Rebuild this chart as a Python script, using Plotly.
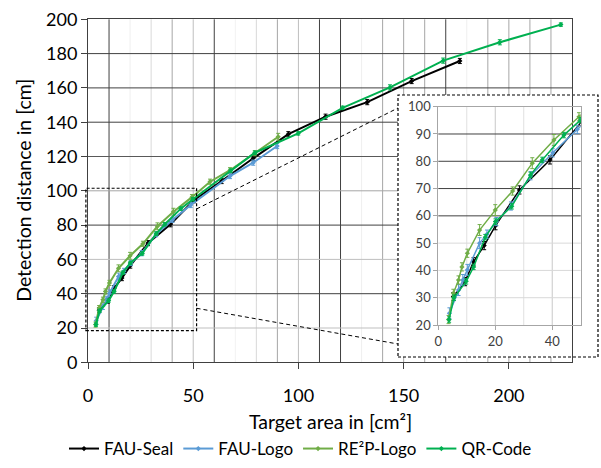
import plotly.graph_objects as go

# ---------------- data ----------------
x_seal = [5.3, 9.4, 12.4, 16.1, 20.1, 28.5, 39.2, 50.3, 63.5, 78.5, 95.2, 112.9, 132.7, 153.8, 176.7]
y_seal = [30.4, 35.9, 43.2, 49.1, 56.4, 69.5, 80.5, 94.5, 105.7, 119.0, 133.0, 143.2, 151.7, 164.0, 175.7]
e_seal = [1.5, 1.5, 1.5, 1.5, 1.5, 1.5, 1.5, 1.5, 1.5, 1.5, 1.5, 1.5, 1.5, 1.5, 1.5]

x_logo = [3.9, 7.1, 8.6, 10.2, 14.5, 17.1, 20.4, 25.5, 32.4, 40.2, 48.8, 67.5, 78.5, 89.9]
y_logo = [24.3, 32.8, 36.5, 40.2, 50.0, 53.3, 57.9, 63.6, 74.7, 83.1, 91.7, 108.6, 116.4, 126.1]
e_logo = [2.0, 2.0, 2.0, 2.0, 2.0, 1.5, 1.5, 1.5, 1.5, 1.5, 1.5, 1.5, 1.5, 1.5]

x_re = [3.6, 5.3, 7.1, 8.3, 10.2, 14.5, 20.0, 26.1, 33.0, 40.6, 49.4, 58.0, 67.5, 79.3, 90.4]
y_re = [22.0, 31.6, 36.5, 41.3, 46.3, 54.8, 62.1, 69.1, 79.3, 87.8, 96.3, 105.3, 112.0, 121.9, 131.5]
e_re = [1.5, 1.5, 1.5, 1.5, 1.5, 2.0, 2.0, 1.5, 2.0, 2.0, 1.5, 1.5, 1.5, 1.5, 2.0]

x_qr = [3.8, 5.5, 9.8, 12.4, 16.5, 20.1, 25.8, 32.4, 36.5, 44.1, 49.9, 67.8, 79.3, 99.9, 121.0, 143.5, 168.8, 195.7, 224.7]
y_qr = [22.0, 30.0, 36.0, 41.3, 52.2, 57.9, 63.5, 75.0, 80.5, 89.6, 95.1, 111.7, 122.2, 133.5, 148.4, 160.3, 175.9, 186.6, 196.9]
e_qr = [1.0, 1.0, 1.0, 1.0, 1.0, 1.0, 1.0, 1.0, 1.0, 1.0, 1.0, 1.0, 1.0, 1.0, 1.0, 1.5, 1.5, 1.5, 1.0]

series_names = ["FAU-Seal", "FAU-Logo", "RE\u00b2P-Logo", "QR-Code"]
series_colors = ["#000000", "#5B9BD5", "#70AD47", "#00B050"]

x_ticks = [0, 50, 100, 150, 200]
y_ticks = [0, 20, 40, 60, 80, 100, 120, 140, 160, 180, 200]
inset_x_ticks = [0, 20, 40]
inset_y_ticks = [20, 30, 40, 50, 60, 70, 80, 90, 100]

# vertical gridlines of the main chart and their shades
v_grid = [10, 20, 30, 40, 50, 60, 70, 80, 90, 100, 110, 120, 130, 140, 150, 160, 170, 180, 190, 200, 210, 220]
v_grid_col = ["#404040", "#EFEFEF", "#D9D9D9", "#A6A6A6", "#BFBFBF", "#404040", "#F2F2F2", "#D9D9D9",
              "#A6A6A6", "#BFBFBF", "#404040", "#404040", "#EFEFEF", "#A6A6A6", "#A6A6A6", "#A6A6A6",
              "#404040", "#EFEFEF", "#A6A6A6", "#A6A6A6", "#A6A6A6", "#A6A6A6"]
h_grid = [20, 40, 60, 80, 100, 120, 140, 160, 180]
h_grid_col = ["#BFBFBF", "#404040", "#BFBFBF", "#404040", "#A6A6A6", "#595959", "#404040", "#404040", "#404040"]

iv_grid = [10, 20, 30, 40]
iv_grid_col = ["#E0E0E0", "#C8C8C8", "#E0E0E0", "#C8C8C8"]
ih_grid = [30, 40, 50, 60, 70, 80, 90]
ih_grid_col = ["#D9D9D9", "#D9D9D9", "#D9D9D9", "#404040", "#404040", "#404040", "#404040"]

# ---------------- layout geometry ----------------
W, H = 601, 468
X_RANGE = [0, 230]
Y_RANGE = [0, 200]
X2_RANGE = [0, 50]
Y2_RANGE = [20, 100]
X_DOM = [88 / W, 572 / W]
Y_DOM = [(H - 362.3) / H, (H - 19.3) / H]
X2_DOM = [438.3 / W, 580.7 / W]
Y2_DOM = [(H - 325) / H, (H - 106.7) / H]
FONT = "Lato, 'Open Sans', sans-serif"


def px(v):
    return X_DOM[0] + (v - X_RANGE[0]) / (X_RANGE[1] - X_RANGE[0]) * (X_DOM[1] - X_DOM[0])


def py(v):
    return Y_DOM[0] + (v - Y_RANGE[0]) / (Y_RANGE[1] - Y_RANGE[0]) * (Y_DOM[1] - Y_DOM[0])


def to_x2dom(p):
    return (p - X2_DOM[0]) / (X2_DOM[1] - X2_DOM[0])


def to_y2dom(p):
    return (p - Y2_DOM[0]) / (Y2_DOM[1] - Y2_DOM[0])


fig = go.Figure()
data = [(x_seal, y_seal, e_seal), (x_logo, y_logo, e_logo), (x_re, y_re, e_re), (x_qr, y_qr, e_qr)]

for (xs, ys, es), name, col in zip(data, series_names, series_colors):
    fig.add_trace(go.Scatter(
        x=xs, y=ys, name=name, mode="lines+markers",
        line=dict(color=col, width=2), marker=dict(size=4, color=col, symbol="diamond"),
        error_y=dict(type="data", array=es, color=col, thickness=1, width=2),
        xaxis="x", yaxis="y"))

for (xs, ys, es), name, col in zip(data, series_names, series_colors):
    fig.add_trace(go.Scatter(
        x=xs, y=ys, name=name, mode="lines+markers", showlegend=False,
        line=dict(color=col, width=1.5), marker=dict(size=4, color=col, symbol="diamond"),
        error_y=dict(type="data", array=es, color=col, thickness=1, width=2),
        xaxis="x2", yaxis="y2"))

shapes = []
# main gridlines
for v, c in zip(v_grid, v_grid_col):
    shapes.append(dict(type="line", xref="x", yref="y domain", x0=v, x1=v, y0=0, y1=1,
                       line=dict(color=c, width=1), layer="below"))
for v, c in zip(h_grid, h_grid_col):
    shapes.append(dict(type="line", xref="x domain", yref="y", x0=0, x1=1, y0=v, y1=v,
                       line=dict(color=c, width=1), layer="below"))

# inset box (white, dashed) drawn in the inset subplot's lower layer
bx0, bx1 = 398 / W, 598 / W
by0, by1 = (H - 357) / H, (H - 95) / H
shapes.append(dict(type="rect", xref="x2 domain", yref="y2 domain",
                   x0=to_x2dom(bx0), x1=to_x2dom(bx1), y0=to_y2dom(by0), y1=to_y2dom(by1),
                   fillcolor="white", line=dict(color="#000000", width=1.2, dash="3px,2px"), layer="below"))
for v, c in zip(iv_grid, iv_grid_col):
    shapes.append(dict(type="line", xref="x2", yref="y2 domain", x0=v, x1=v, y0=0, y1=1,
                       line=dict(color=c, width=1), layer="below"))
for v, c in zip(ih_grid, ih_grid_col):
    shapes.append(dict(type="line", xref="x2 domain", yref="y2", x0=0, x1=1, y0=v, y1=v,
                       line=dict(color=c, width=1), layer="below"))

# zoom rectangle in main chart + connectors
zx0, zx1, zy0, zy1 = -1, 51.6, 18.5, 101.5
shapes.append(dict(type="rect", xref="paper", yref="paper", x0=px(zx0), x1=px(zx1), y0=py(zy0), y1=py(zy1),
                   line=dict(color="#000000", width=1.2, dash="3px,2px"), layer="above"))
shapes.append(dict(type="line", xref="paper", yref="paper", x0=px(zx1), y0=py(89.4), x1=bx0, y1=(H - 108) / H,
                   line=dict(color="#000000", width=1, dash="4px,3px"), layer="above"))
shapes.append(dict(type="line", xref="paper", yref="paper", x0=px(zx1), y0=py(31.5), x1=bx0, y1=(H - 344) / H,
                   line=dict(color="#000000", width=1, dash="4px,3px"), layer="above"))

annotations = [
    dict(text="Detection distance in [cm]", xref="paper", yref="paper", x=24 / W, y=(Y_DOM[0] + Y_DOM[1]) / 2,
         textangle=-90, showarrow=False, font=dict(size=19.5, color="#000000", family=FONT),
         xanchor="center", yanchor="middle"),
    dict(text="Target area in [cm\u00b2]", xref="paper", yref="paper", x=(X_DOM[0] + X_DOM[1]) / 2,
         y=(H - 421) / H, showarrow=False, font=dict(size=19.5, color="#000000", family=FONT),
         xanchor="center", yanchor="middle"),
]

fig.update_layout(
    width=W, height=H, margin=dict(l=0, r=0, t=0, b=0, autoexpand=False),
    paper_bgcolor="white", plot_bgcolor="rgba(0,0,0,0)",
    font=dict(family=FONT, color="#000000"),
    showlegend=True,
    legend=dict(orientation="h", x=0.5, xanchor="center", y=(H - 449) / H, yanchor="middle",
                font=dict(size=17, family=FONT, color="#000000"), itemwidth=30,
                bgcolor="rgba(0,0,0,0)"),
    xaxis=dict(domain=X_DOM, range=X_RANGE, tickvals=x_ticks, showgrid=False, zeroline=False,
               showline=True, linecolor="#404040", linewidth=1, mirror=True, automargin=False,
               ticks="outside", ticklen=6, tickcolor="#404040", ticklabelstandoff=11,
               tickfont=dict(size=18, family=FONT, color="#000000"), anchor="y"),
    yaxis=dict(domain=Y_DOM, range=Y_RANGE, tickvals=y_ticks, showgrid=False, zeroline=False,
               showline=True, linecolor="#404040", linewidth=1, mirror=True, automargin=False,
               ticks="outside", ticklen=6, tickcolor="#404040",
               tickfont=dict(size=18, family=FONT, color="#000000"), anchor="x"),
    xaxis2=dict(domain=X2_DOM, range=X2_RANGE, tickvals=inset_x_ticks, showgrid=False, zeroline=False,
                showline=True, linecolor="#A6A6A6", linewidth=1, mirror=True, automargin=False,
                ticks="outside", ticklen=4, tickcolor="#A6A6A6",
                tickfont=dict(size=13, family=FONT, color="#404040"), anchor="y2"),
    yaxis2=dict(domain=Y2_DOM, range=Y2_RANGE, tickvals=inset_y_ticks, showgrid=False, zeroline=False,
                showline=True, linecolor="#A6A6A6", linewidth=1, mirror=True, automargin=False,
                ticks="outside", ticklen=4, tickcolor="#A6A6A6",
                tickfont=dict(size=13, family=FONT, color="#404040"), anchor="x2"),
    shapes=shapes,
    annotations=annotations,
)

fig.write_html("out.html", config={"displayModeBar": False},
               post_script="document.body.style.margin='0';")
